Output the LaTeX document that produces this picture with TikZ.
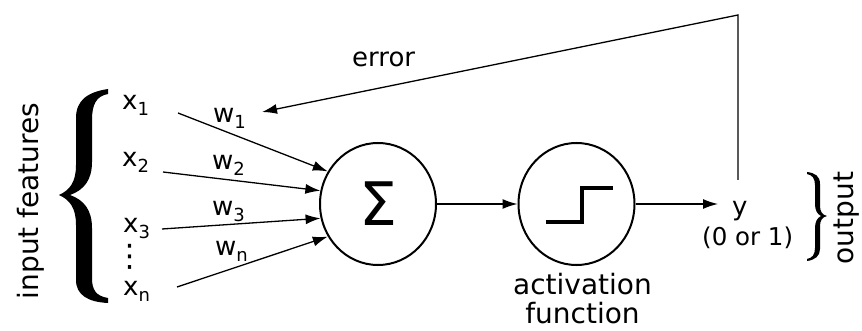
\documentclass[tikz,border=0pt]{standalone}
\usepackage{fontspec}
\setmainfont{DejaVu Sans}
\usetikzlibrary{arrows.meta,shapes.geometric}
% lowered index for x_i and w_i labels
\newcommand\subidx[1]{\raisebox{-6pt}{\fontsize{18}{18}\selectfont #1}}
\begin{document}
\begin{tikzpicture}[x=1pt,y=-1pt,
  lbl/.style={inner sep=0pt, font=\fontsize{26}{30}\selectfont},
  biglbl/.style={inner sep=0pt, font=\fontsize{28}{29}\selectfont},
  unit/.style={ellipse, draw, line width=2pt, minimum width=116pt,
               minimum height=122pt, inner sep=0pt},
  arr/.style={line width=1.3pt, -{Latex[length=15pt,width=10pt]}},
  stepline/.style={line width=3.5pt}]
\useasboundingbox (0,0) rectangle (862,331);

% summation and activation units
\node[unit, font=\fontsize{60}{60}\selectfont] (sum) at (378,204) {Σ};
\node[unit] (act) at (576.5,204) {};
\draw[stepline] ([shift={(-30.5,18)}]act.center) -- ++(36,0) -- ++(0,-34) -- ++(31,0);
\node[biglbl, anchor=north, align=center] (actlbl) at (582.5,273) {activation\\function};

% inputs
\node[lbl, anchor=base west] (x1) at (122,110) {x\subidx{1}};
\node[lbl, anchor=base west] (x2) at (122,167) {x\subidx{2}};
\node[lbl, anchor=base west] (x3) at (123,233) {x\subidx{3}};
\node[lbl, anchor=base west] (xn) at (123,295) {x\subidx{n}};
\node[inner sep=0pt, font=\fontsize{31}{31}\selectfont] (vd) at (130,257) {⋮};

% weights
\node[lbl, anchor=base west] (w1) at (213,123) {w\subidx{1}};
\node[lbl, anchor=base west] (w2) at (212,170) {w\subidx{2}};
\node[lbl, anchor=base west] (w3) at (212,215) {w\subidx{3}};
\node[lbl, anchor=base west] (wn) at (215,255) {w\subidx{n}};

\coordinate (s1) at (178,113);
\coordinate (s2) at (163,172);
\coordinate (s3) at (162,229);
\coordinate (sn) at (177,287);
\draw[arr] (s1) -- (sum.147);
\draw[arr] (s2) -- (sum.167);
\draw[arr] (s3) -- (sum.194);
\draw[arr] (sn) -- (sum.213);

\draw[arr] (sum.east) -- (act.west);

% output
\node[lbl, anchor=base west] (y) at (732,215) {y};
\node[inner sep=0pt, anchor=base west, font=\fontsize{24.5}{26}\selectfont] (yval) at (702,245) {(0 or 1)};
\draw[arr, shorten >=14pt] (act.east) -- (act.east -| y.west);

% error feedback
\coordinate (fb0) at (738,180);
\coordinate (fb1) at (738,15);
\coordinate (errtip) at (262,112);
\draw[arr] (fb0) -- (fb1) -- (errtip);
\node[lbl, anchor=base west] (err) at (352,67) {error};

% braces
\fill (108,89) .. controls (88,92) and (76,100) .. (76,118) -- (76,165)
  .. controls (76,182) and (70,190) .. (59,195)
  .. controls (70,200) and (76,208) .. (76,225) -- (76,280)
  .. controls (76,295) and (88,302) .. (108,303) -- (108,298)
  .. controls (96,296) and (92,290) .. (92,278) -- (92,228)
  .. controls (92,210) and (84,200) .. (70,195)
  .. controls (84,190) and (92,180) .. (92,162) -- (92,120)
  .. controls (92,105) and (96,96) .. (108,94) -- cycle;
\node[biglbl, rotate=90, anchor=base] (inlbl) at (38,201) {input features};

\fill (807,172) .. controls (815,173) and (820,176) .. (820,184) -- (820,206)
  .. controls (820,211) and (822,215) .. (827,216)
  .. controls (822,217) and (820,221) .. (820,226) -- (820,249)
  .. controls (820,256) and (815,260) .. (807,261) -- (807,259)
  .. controls (812,258) and (815,255) .. (815,248) -- (815,228)
  .. controls (815,222) and (817,218) .. (821,216)
  .. controls (817,214) and (815,210) .. (815,204) -- (815,185)
  .. controls (815,178) and (812,175) .. (807,174) -- cycle;
\node[biglbl, rotate=90, anchor=base] (outlbl) at (853,218) {output};
\end{tikzpicture}
\end{document}
